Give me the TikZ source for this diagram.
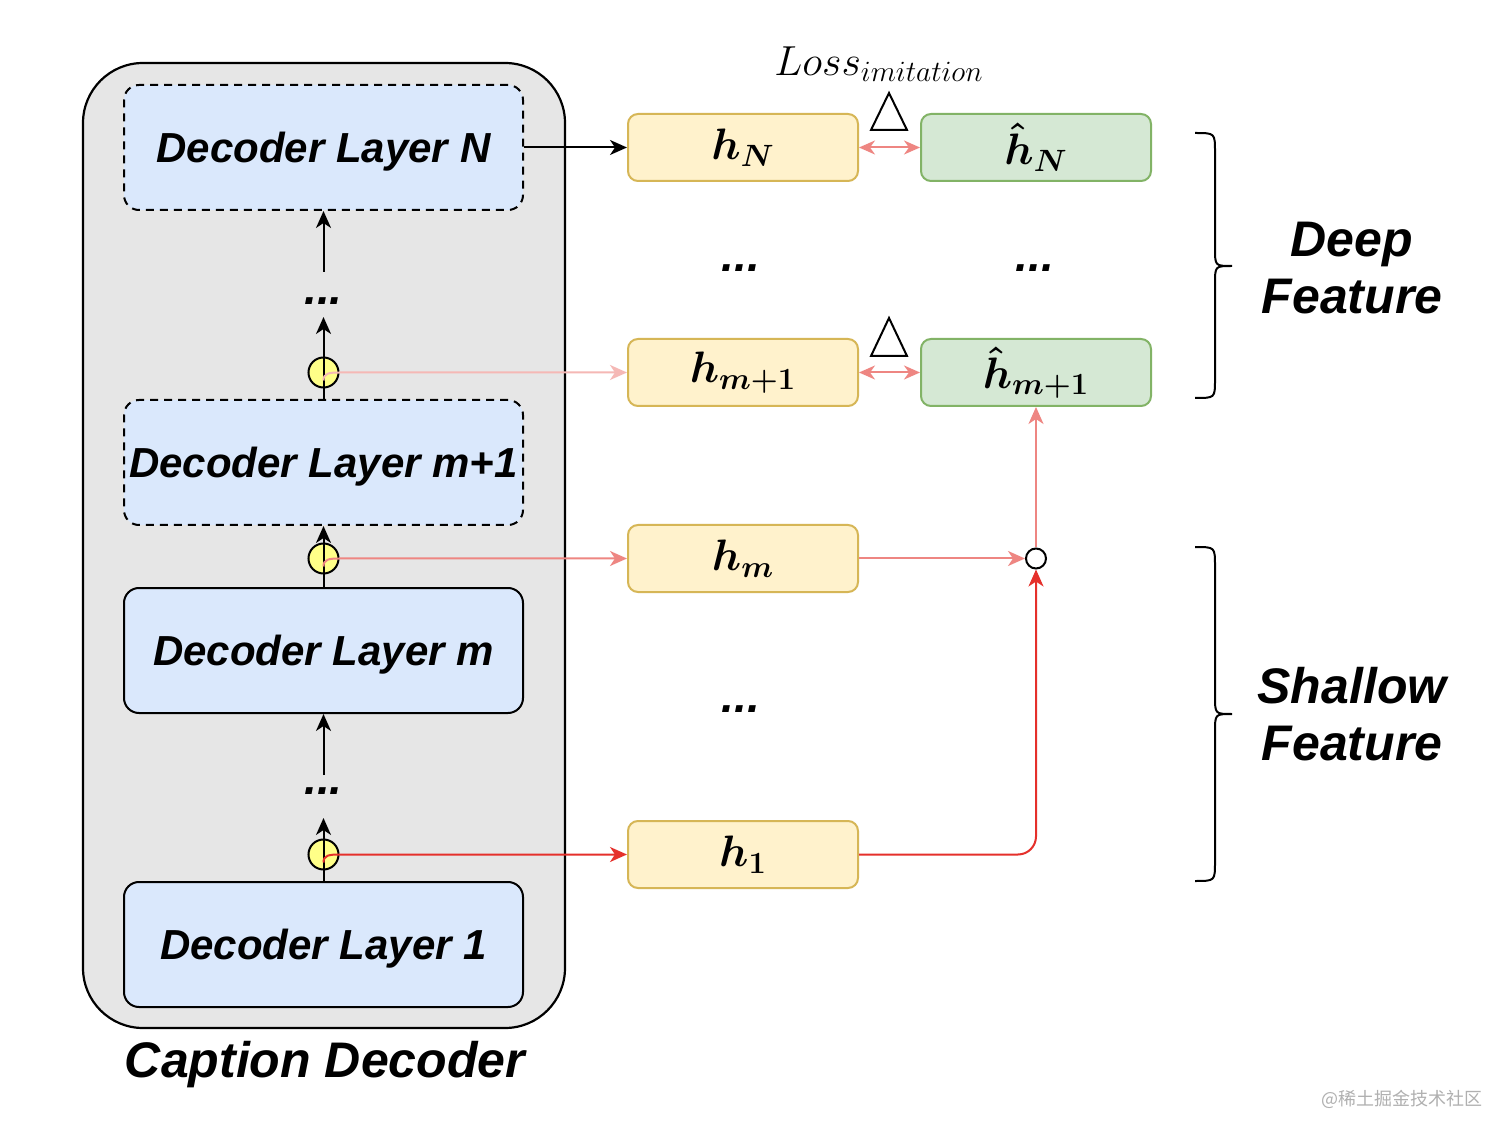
\RequirePackage{fix-cm}
\documentclass[tikz,border=0pt]{standalone}
\usepackage{amsmath}
\usepackage{fontspec}
\newfontfamily\lsans{Liberation Sans}
\newfontfamily\cjk{Noto Sans CJK SC}
\usetikzlibrary{arrows.meta,calc}
\definecolor{outerfill}{HTML}{E6E6E6}
\definecolor{dlfill}{HTML}{DAE8FC}
\definecolor{hfill}{HTML}{FFF2CC}
\definecolor{hborder}{HTML}{D6B656}
\definecolor{gfill}{HTML}{D5E8D4}
\definecolor{gborder}{HTML}{82B366}
\definecolor{ycol}{HTML}{FFFF88}
\definecolor{pinkl}{HTML}{F5B8B5}
\definecolor{coral}{HTML}{EE8682}
\definecolor{redc}{HTML}{E5302B}
\definecolor{wmark}{HTML}{B0B0B0}
\begin{document}
\begin{tikzpicture}[x=0.5pt,y=-0.5pt,
  layer/.style={draw=black, line width=1pt, fill=dlfill, rounded corners=7.5pt,
    minimum width=199.5pt, minimum height=62.5pt, inner sep=0, text depth=0pt,
    font=\lsans\bfseries\itshape\fontsize{21}{25}\selectfont},
  dlayer/.style={layer, dash pattern=on 4pt off 3pt},
  hbox/.style={draw=hborder, fill=hfill, line width=1pt, rounded corners=5pt,
    minimum width=115pt, minimum height=33.5pt, inner sep=0,
    font=\fontsize{22}{26}\selectfont},
  gbox/.style={hbox, draw=gborder, fill=gfill},
  ycirc/.style={circle, draw=black, line width=1pt, fill=ycol, minimum size=15pt, inner sep=0},
  wcirc/.style={circle, draw=black, line width=1pt, fill=white, minimum size=10pt, inner sep=0},
  arr/.style={line width=1pt, -{Stealth[length=8.5pt,width=7.5pt,inset=2.5pt]}},
  darr/.style={line width=1pt, {Stealth[length=8pt,width=7pt,inset=2.5pt]}-{Stealth[length=8pt,width=7pt,inset=2.5pt]}},
  dotsn/.style={font=\lsans\bfseries\itshape\fontsize{23}{25}\selectfont, anchor=base, inner sep=0},
  bigtxt/.style={font=\lsans\bfseries\itshape\fontsize{25}{28.5}\selectfont, align=center, inner sep=0}
]
\useasboundingbox (0,0) rectangle (1512,1139);
\fill[white] (0,0) rectangle (1512,1139);

% outer decoder container
\node[draw=black, fill=outerfill, line width=1.1pt, rounded corners=30pt,
  minimum width=241pt, minimum height=482.5pt, inner sep=0] (outer) at (324,545.5) {};
\node[font=\lsans\bfseries\itshape\fontsize{25}{30}\selectfont, inner sep=0] (cap) at (325,1065) {Caption Decoder};

% decoder layers
\node[dlayer] (dlN) at (323.5,147.5) {Decoder Layer N};
\node[dlayer] (dlm1) at (323.5,462.5) {Decoder Layer m+1};
\node[layer] (dlm) at (323.5,650.5) {Decoder Layer m};
\node[layer] (dl1) at (323.5,944.5) {Decoder Layer 1};

% yellow taps
\node[ycirc] (c3) at (323.5,372.5) {};
\node[ycirc] (c2) at (323.5,558.5) {};
\node[ycirc] (c1) at (323.5,854.5) {};

% dots
\node[dotsn] (d1) at (323.5,305) {...};
\node[dotsn] (d2) at (323.5,794) {...};
\node[dotsn] (d3) at (741,272) {...};
\node[dotsn] (d4) at (1035,272) {...};
\node[dotsn] (d5) at (741,712) {...};

% vertical connectors inside decoder
\coordinate (t1) at (323.5,272);
\coordinate (t2) at (323.5,317);
\coordinate (t3) at (323.5,775);
\coordinate (t4) at (323.5,818);
\draw[arr] (t1) -- (dlN.south);
\draw[arr] (dlm1.north) -- (t2);
\draw[arr] (dlm.north) -- (dlm1.south);
\draw[arr] (t3) -- (dlm.south);
\draw[arr] (dl1.north) -- (t4);

% feature boxes
\node[hbox] (hN) at (743,147.5) {$\boldsymbol{h_N}$};
\node[hbox] (hm1) at (743,372.5) {$\boldsymbol{h_{m+1}}$};
\node[hbox] (hm) at (743,558.5) {$\boldsymbol{h_m}$};
\node[hbox] (h1) at (743,854.5) {$\boldsymbol{h_1}$};
\node[gbox] (ghN) at (1036,147.5) {$\boldsymbol{\hat{h}_N}$};
\node[gbox] (ghm1) at (1036,372.5) {$\boldsymbol{\hat{h}_{m+1}}$};

% junction
\node[wcirc] (wc) at (1036,558.5) {};

% loss label and triangles
\node[inner sep=0, font=\fontsize{21}{24}\selectfont] (loss) at (879,64) {$Loss_{imitation}$};
\draw[line width=1pt, line join=miter] (871,130) -- (889,93) -- (907,130) -- cycle;
\draw[line width=1pt, line join=miter] (871,356) -- (889,318) -- (907,356) -- cycle;

% connectors
\draw[arr] (dlN.east) -- (hN.west);
\draw[darr, coral] (hN.east) -- (ghN.west);
\draw[darr, coral] (hm1.east) -- (ghm1.west);
\draw[arr, pinkl] ($(c3.center)+(0,8)$) .. controls ($(c3.center)+(0,1)$) and ($(c3.center)+(5,0)$) .. (c3.east) -- (hm1.west);
\draw[arr, coral] ($(c2.center)+(0,8)$) .. controls ($(c2.center)+(0,1)$) and ($(c2.center)+(5,0)$) .. (c2.east) -- (hm.west);
\draw[arr, redc] ($(c1.center)+(0,8)$) .. controls ($(c1.center)+(0,1)$) and ($(c1.center)+(5,0)$) .. (c1.east) -- (h1.west);
\draw[arr, coral] (hm.east) -- (wc.west);
\draw[arr, coral] (wc.north) -- (ghm1.south);
\draw[arr, redc, rounded corners=9pt] (h1.east) -| (wc.south);

% braces
\draw[line width=1pt] (1195,133) .. controls (1215,133) .. (1215,152) -- (1215,248)
  .. controls (1215,266) .. (1232,266) .. controls (1215,266) .. (1215,284) -- (1215,380)
  .. controls (1215,398) .. (1195,398);
\draw[line width=1pt] (1195,547) .. controls (1215,547) .. (1215,566) -- (1215,696)
  .. controls (1215,714) .. (1232,714) .. controls (1215,714) .. (1215,732) -- (1215,862)
  .. controls (1215,881) .. (1195,881);
\node[bigtxt] (deep) at (1352,268) {Deep\\Feature};
\node[bigtxt] (shallow) at (1352,714) {Shallow\\Feature};

% watermark
\node[font=\cjk\fontsize{9}{10}\selectfont, text=wmark, inner sep=0] (wm) at (1402,1099) {@稀土掘金技术社区};
\end{tikzpicture}
\end{document}
